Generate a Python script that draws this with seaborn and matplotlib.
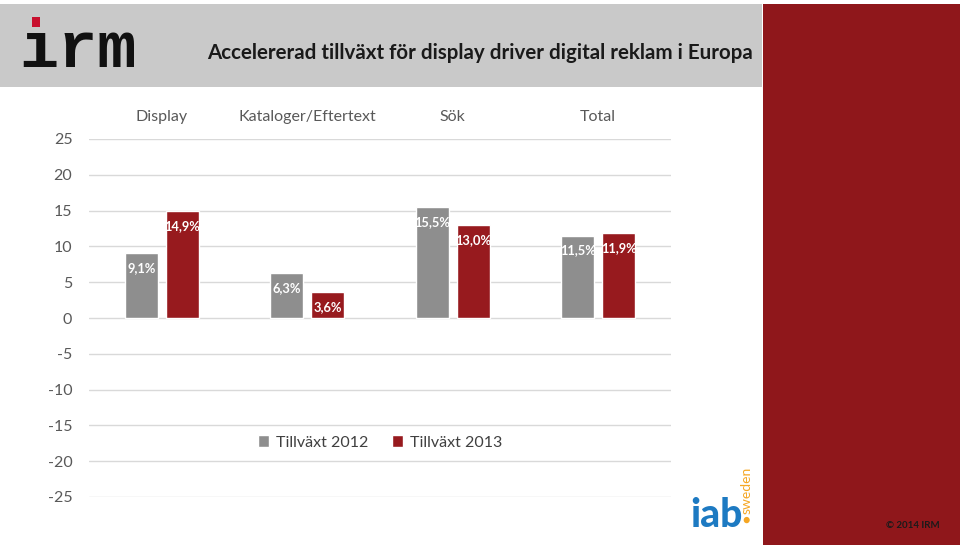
import pandas as pd
import matplotlib
matplotlib.use("Agg")
import matplotlib.pyplot as plt
from matplotlib.patches import Rectangle
import seaborn as sns

categories = ["Display", "Kataloger/Eftertext", "Sök", "Total"]
years = ["Tillväxt 2012", "Tillväxt 2013"]
growth_2012 = [9.1, 6.3, 15.5, 11.5]
growth_2013 = [14.9, 3.6, 13.0, 11.9]
y_ticks = [-25, -20, -15, -10, -5, 0, 5, 10, 15, 20, 25]

GRAY = "#8e8e8e"
RED = "#971a1e"
PANEL_RED = "#8f171b"
TEXT = "#595959"

sns.set_theme(style="white")
plt.rcParams["font.family"] = ["Lato", "DejaVu Sans"]
plt.rcParams["axes.unicode_minus"] = False

W, H = 960, 548


def px(x, y):
    return x / W, 1 - y / H


df = pd.DataFrame({
    "kategori": categories * 2,
    "år": [years[0]] * 4 + [years[1]] * 4,
    "värde": growth_2012 + growth_2013,
})

fig = plt.figure(figsize=(9.6, 5.48), dpi=100)
fig.patch.set_facecolor("white")

# header band and right panel
fig.patches.append(Rectangle(px(0, 87), 762 / W, 83 / H, transform=fig.transFigure,
                             facecolor="#c9c9c9", edgecolor="none", zorder=0))
fig.patches.append(Rectangle(px(763, 545), 197 / W, 541 / H, transform=fig.transFigure,
                             facecolor=PANEL_RED, edgecolor="none", zorder=0))

# irm logo
fig.text(*px(19, 67), "\u0131rm", fontsize=47, fontweight="bold",
         family="Liberation Mono", color="#111111", ha="left", va="baseline")
fig.patches.append(Rectangle(px(32, 27), 8 / W, 10 / H, transform=fig.transFigure,
                             facecolor="#c8102e", edgecolor="none", zorder=3))

fig.text(*px(480, 53), "Accelererad tillväxt för display driver digital reklam i Europa",
         fontsize=14.8, fontweight="bold", color="#1a1a1a", ha="center", va="center")

# chart area
ax = fig.add_axes([89 / W, (H - 497) / H, 582 / W, 358 / H])
sns.barplot(data=df, x="kategori", y="värde", hue="år", palette=[GRAY, RED],
            width=0.565, gap=0.195, saturation=1, ax=ax)

ax.set_ylim(-25, 25)
ax.set_xlim(-0.5, 3.5)
ax.set_yticks(y_ticks)
ax.grid(axis="y", color="#d9d9d9", linewidth=1)
ax.set_axisbelow(True)
for s in ax.spines.values():
    s.set_visible(False)
ax.set_xlabel("")
ax.set_ylabel("")
ax.xaxis.tick_top()
ax.tick_params(axis="x", length=0, pad=10.5, labelsize=11.5, labelcolor=TEXT)
ax.tick_params(axis="y", length=0, pad=12, labelsize=11.5, labelcolor=TEXT)

for cont in ax.containers:
    vals = [b.get_height() for b in cont]
    labels = [f"{v:.1f}%".replace(".", ",") for v in vals]
    ax.bar_label(cont, labels=labels, padding=-15, color="white",
                 fontsize=9.3, fontweight="bold")

ax.legend(loc="center", bbox_to_anchor=(0.5, 0.152), ncol=2, frameon=False,
          fontsize=11.5, labelcolor="#404040", handlelength=0.7, handleheight=0.7,
          handletextpad=0.4, columnspacing=1.5)

# iab logo
fig.text(*px(690, 527), "iab", fontsize=28, fontweight="black", color="#1d7ac2",
         ha="left", va="baseline")
fig.text(*px(746, 520), "\u25CF", fontsize=9, color="#f5a623", ha="center", va="center")
fig.text(*px(747, 490), "sweden", fontsize=10, color="#f5a623", rotation=90,
         ha="center", va="center")

fig.text(*px(913, 525), "© 2014 IRM", fontsize=7, fontweight="bold", color="#1a1a1a",
         ha="center", va="center")

plt.savefig("out.png", dpi=100)
plt.close()
